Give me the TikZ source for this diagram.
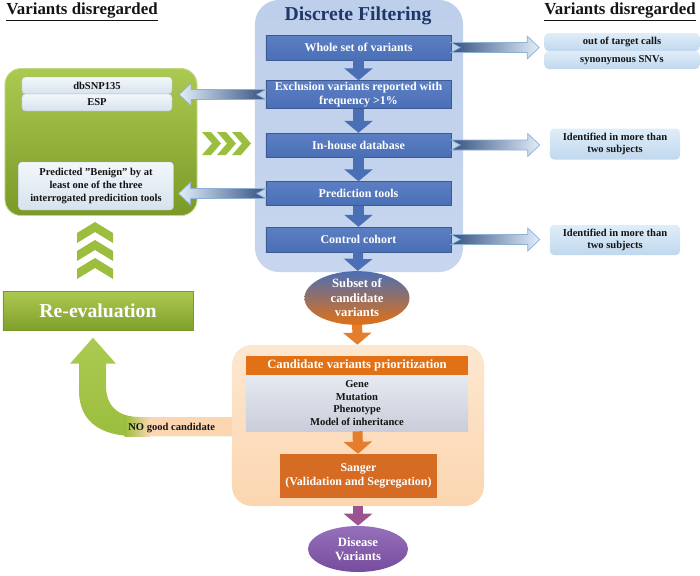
\documentclass[tikz,border=0pt]{standalone}
\usepackage{fontspec}
\setmainfont{Liberation Serif}
\usetikzlibrary{
  shapes.geometric,
  arrows.meta,
  positioning,
  calc
}
\definecolor{filterbg}{RGB}{199, 214, 238}
\definecolor{filterbgtop}{RGB}{190, 207, 235}
\definecolor{filterbar}{RGB}{75, 111, 181}
\definecolor{filterbartop}{RGB}{92, 127, 196}
\definecolor{filterdark}{RGB}{31, 56, 106}
\definecolor{sidedark}{RGB}{52, 82, 130}
\definecolor{sidelight}{RGB}{226, 238, 249}
\definecolor{sideline}{RGB}{140, 176, 214}
\definecolor{discardtop}{RGB}{224, 237, 249}
\definecolor{discardbot}{RGB}{192, 216, 238}
\definecolor{greentop}{RGB}{172, 202, 82}
\definecolor{greenbot}{RGB}{122, 153, 38}
\definecolor{greenmid}{RGB}{155, 190, 62}
\definecolor{innertop}{RGB}{243, 247, 251}
\definecolor{innerbot}{RGB}{214, 226, 238}
\definecolor{peach}{RGB}{251, 214, 176}
\definecolor{peachlight}{RGB}{253, 231, 208}
\definecolor{orangebar}{RGB}{226, 112, 20}
\definecolor{sangercolor}{RGB}{214, 108, 36}
\definecolor{listtop}{RGB}{230, 233, 241}
\definecolor{listbot}{RGB}{200, 206, 218}
\definecolor{purplecolor}{RGB}{118, 76, 158}
\definecolor{purplelight}{RGB}{150, 112, 186}
\definecolor{arrowpurple}{RGB}{156, 84, 142}
\definecolor{labelcolor}{RGB}{20, 20, 20}
\newcommand{\fsbar}{\fontsize{8.5}{9.5}\selectfont\bfseries}
\newcommand{\fssmall}{\fontsize{7.5}{9}\selectfont\bfseries}
\newcommand{\fshead}{\fontsize{12}{14}\selectfont\bfseries}
\newcommand{\fsbig}{\fontsize{14}{16}\selectfont\bfseries}
\newcommand{\fsmid}{\fontsize{9}{10.3}\selectfont\bfseries}
% block arrow with notched tail: style, direction (1 or -1), tail, tip
\newcommand{\sidearrow}[4]{%
  \path[#1] ($(#3)+(0,-5)$) -- ($(#4)+({-12*#2},-5)$) -- ($(#4)+({-12*#2},-11.5)$) -- (#4)
    -- ($(#4)+({-12*#2},11.5)$) -- ($(#4)+({-12*#2},5)$) -- ($(#3)+(0,5)$)
    -- ($(#3)+({9*#2},0)$) -- cycle;}
\tikzset{
headline/.style={
  font=\fshead,
  text=labelcolor
},
filterpanel/.style={
  rectangle,
  rounded corners=6mm,
  top color=filterbgtop,
  bottom color=filterbg,
  minimum width=52mm,
  minimum height=68mm
},
paneltitle/.style={
  font=\fsbig,
  text=filterdark
},
filterstep/.style={
  rectangle,
  top color=filterbartop,
  bottom color=filterbar,
  draw=filterbar!80!black,
  line width=0.3pt,
  minimum width=46.25mm,
  inner sep=1pt,
  align=center,
  text=white,
  font=\fsbar
},
discard/.style={
  rectangle,
  rounded corners=1mm,
  top color=discardtop,
  bottom color=discardbot,
  inner sep=1pt,
  align=center,
  text=labelcolor,
  font=\fssmall
},
inner/.style={
  rectangle,
  rounded corners=0.8mm,
  top color=innertop,
  bottom color=innerbot,
  draw=innerbot!80!black,
  line width=0.2pt,
  inner sep=1pt,
  align=center,
  text=labelcolor,
  font=\fssmall
},
greenpanel/.style={
  rectangle,
  rounded corners=4mm,
  top color=greentop,
  bottom color=greenbot,
  draw=greentop!70!white,
  line width=0.6pt,
  minimum width=48mm,
  minimum height=36.75mm
},
greenbar/.style={
  rectangle,
  top color=greentop,
  bottom color=greenbot!90!greentop,
  draw=greenbot,
  line width=0.3pt,
  minimum width=47.5mm,
  minimum height=9.75mm,
  text=white,
  font=\fsbig
},
chevron/.style={
  fill=greenmid
},
downarrow/.style={
  draw=filterbar,
  line width=2.5mm,
  -{Triangle[length=3mm,width=7mm]}
},
orangearrow/.style={
  downarrow,
  draw=orangebar!90!white
},
purplearrow/.style={
  downarrow,
  draw=arrowpurple
},
toright/.style={
  left color=sidedark,
  right color=sidelight,
  draw=sideline,
  line width=0.5pt
},
toleft/.style={
  left color=sidelight,
  right color=sidedark,
  draw=sideline,
  line width=0.5pt
},
roundnode/.style={
  ellipse,
  inner sep=0pt,
  align=center,
  text=white,
  font=\fsmid
},
peachpanel/.style={
  rectangle,
  rounded corners=5mm,
  top color=peachlight,
  bottom color=peach,
  minimum width=63mm,
  minimum height=40.25mm
},
orangehead/.style={
  rectangle,
  fill=orangebar,
  minimum width=55.5mm,
  minimum height=4.75mm,
  inner sep=1pt,
  text=white,
  font=\fsmid
},
criteriabox/.style={
  rectangle,
  top color=listtop,
  bottom color=listbot,
  minimum width=55.5mm,
  minimum height=14mm,
  inner sep=1pt,
  align=center,
  text=labelcolor,
  font=\fssmall
},
sangerbox/.style={
  rectangle,
  fill=sangercolor,
  minimum width=39.25mm,
  minimum height=11mm,
  inner sep=1pt,
  align=center,
  text=white,
  font=\fsbar
},
backarrow/.style={
  top color=greentop,
  bottom color=greenmid
}
}

\begin{document}
\begin{tikzpicture}[x=0.025cm, y=-0.025cm]
  \useasboundingbox (0,0) rectangle (700,575);

  % headings
  \node[headline] (leftheader) at (82,12) {\underline{Variants disregarded}};
  \node[headline] (rightheader) at (620,12) {\underline{Variants disregarded}};

  % discrete filtering
  \node[filterpanel] (filterbox) at (359,136) {};
  \node[paneltitle] (filtertitle) at (358,16) {Discrete Filtering};
  \node[filterstep, minimum height=6.25mm] (whole) at (358.5,47.5) {Whole set of variants};
  \node[filterstep, minimum height=7mm] (exclusion) at (358.5,94.5) {Exclusion variants reported with\\frequency >1\%};
  \node[filterstep, minimum height=6mm] (inhouse) at (358.5,145) {In-house database};
  \node[filterstep, minimum height=6mm] (prediction) at (358.5,193.5) {Prediction tools};
  \node[filterstep, minimum height=6.25mm] (control) at (358.5,239.5) {Control cohort};

  \draw[downarrow] (whole) -- (exclusion);
  \draw[downarrow] (exclusion) -- (inhouse);
  \draw[downarrow] (inhouse) -- (prediction);
  \draw[downarrow] (prediction) -- (control);

  % discarded on the right
  \node[discard, minimum width=38.75mm, minimum height=4.5mm] (outtarget) at (622,42) {out of target calls};
  \node[discard, minimum width=38.75mm, minimum height=4.5mm] (synonymous) at (622,60) {synonymous SNVs};
  \node[discard, minimum width=32.5mm, minimum height=7.75mm] (identA) at (615,144) {Identified in more than\\two subjects};
  \node[discard, minimum width=32.5mm, minimum height=7.5mm] (identB) at (615,240) {Identified in more than\\two subjects};

  \coordinate (wholetip) at ($(outtarget.south west |- whole.east)+(-5,0)$);
  \coordinate (inhousetip) at ($(identA.west |- inhouse.east)+(-10,0)$);
  \coordinate (controltip) at ($(identB.west |- control.east)+(-10,0)$);
  \sidearrow{toright}{1}{whole.east}{wholetip}
  \sidearrow{toright}{1}{inhouse.east}{inhousetip}
  \sidearrow{toright}{1}{control.east}{controltip}

  % discarded on the left
  \node[greenpanel] (greenbox) at (101,142) {};
  \node[inner, minimum width=37.5mm, minimum height=4.25mm] (dbsnp) at (97,85.5) {dbSNP135};
  \node[inner, minimum width=37.5mm, minimum height=4.25mm] (esp) at (97,102.5) {ESP};
  \node[inner, minimum width=38.75mm, minimum height=12mm] (benign) at (96,186) {Predicted ''Benign'' by at\\least one of the three\\interrogated predicition tools};

  \coordinate (exclusiontip) at ($(dbsnp.south east |- exclusion.west)+(7,0)$);
  \coordinate (predictiontip) at ($(benign.east |- prediction.west)+(5,0)$);
  \sidearrow{toleft}{-1}{exclusion.west}{exclusiontip}
  \sidearrow{toleft}{-1}{prediction.west}{predictiontip}

  \foreach \i in {0,1,2}
    \fill[chevron] ({202+15*\i},132) -- ++(9,0) -- ++(10,11.5) -- ++(-10,11.5) -- ++(-9,0) -- ++(10,-11.5) -- cycle;
  \foreach \i in {0,1,2}
    \fill[chevron] (77,{233+18*\i}) -- (95,{222+18*\i}) -- (113,{233+18*\i}) -- (113,{243+18*\i}) -- (95,{232+18*\i}) -- (77,{243+18*\i}) -- cycle;

  \node[greenbar] (reeval) at (98,311) {Re-evaluation};

  % candidates
  \node[roundnode, minimum width=26.25mm, minimum height=13mm, top color=filterbar, bottom color=orangebar] (subset) at (357,298) {Subset of\\candidate\\variants};
  \draw[downarrow] (control) -- (subset);

  \node[peachpanel] (prioritybox) at (358,425.5) {};
  \draw[orangearrow] (subset) -- (prioritybox);
  \node[orangehead] (priority) at (357,365.5) {Candidate variants prioritization};
  \node[criteriabox] (criteria) at (357,403) {Gene\\Mutation\\Phenotype\\Model of inheritance};
  \node[sangerbox] (sanger) at (358.5,476) {Sanger\\(Validation and Segregation)};
  \draw[orangearrow] (criteria) -- (sanger);

  \node[roundnode, minimum width=25mm, minimum height=11.5mm, top color=purplelight, bottom color=purplecolor] (disease) at (358,549) {Disease\\Variants};
  \draw[purplearrow] (prioritybox) -- (disease);

  % back to re-evaluation
  \coordinate (bendtip) at ($(reeval.south)+(-5,7)$);
  \coordinate (bendtail) at (prioritybox.west |- 0,426.5);
  \path[backarrow] ($(bendtail)+(0,-9.5)$) -- ($(bendtail)+(-92,-9.5)$)
    .. controls ($(bendtail)+(-114,-9.5)$) and ($(bendtip)+(13,68)$) .. ($(bendtip)+(13,48)$)
    -- ($(bendtip)+(13,26)$) -- ($(bendtip)+(23,26)$) -- (bendtip) -- ($(bendtip)+(-23,26)$)
    -- ($(bendtip)+(-14,26)$) -- ($(bendtip)+(-14,53)$)
    .. controls ($(bendtip)+(-14,83)$) and ($(bendtail)+(-132,9.5)$) .. ($(bendtail)+(-97,9.5)$)
    -- ($(bendtail)+(0,9.5)$) -- cycle;
  \shade[left color=greenmid, right color=peach] ($(bendtail)+(-107,-9.5)$) rectangle ($(bendtail)+(-82,9.5)$);
  \fill[peach] ($(bendtail)+(-82,-9.5)$) rectangle ($(bendtail)+(0,9.5)$);
  \node[font=\fssmall, text=labelcolor] (nogood) at ($(bendtail)+(-60,1)$) {NO good candidate};
\end{tikzpicture}
\end{document}
